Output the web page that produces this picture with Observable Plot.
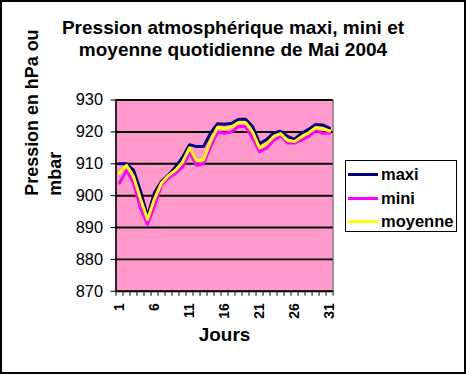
<!DOCTYPE html>
<html>
<head>
<meta charset="utf-8">
<script src="https://cdn.jsdelivr.net/npm/d3@7"></script>
<script src="https://cdn.jsdelivr.net/npm/@observablehq/plot@0.6"></script>
<style>
  body { margin: 0; background: #fff; }
  #wrap { position: relative; width: 466px; height: 374px; box-sizing: border-box; border: 2px solid #000; overflow: hidden; font-family: "Liberation Sans", Arial, sans-serif; }
  #chart { position: absolute; left: -2px; top: -2px; }
  #title { position: absolute; left: 0; right: 0; top: 15px; text-align: center; font-weight: bold; font-size: 19px; line-height: 22px; color: #000; }
  #legend { position: absolute; left: 343px; top: 158px; width: 112px; height: 72px; box-sizing: border-box; border: 1px solid #000; background: #fff; }
  .row { position: absolute; left: 0; height: 20px; display: flex; align-items: center; font-weight: bold; font-size: 16.5px; }
  .sw { width: 30px; height: 3px; margin-left: 2px; margin-right: 3px; }
</style>
</head>
<body>
<div id="wrap">
  <div id="chart"></div>
  <div id="title">Pression atmosphérique maxi, mini et<br>moyenne quotidienne de Mai 2004</div>
  <div id="legend"></div>
</div>
<script>
const days = d3.range(1, 32);
const maxi = [910, 910, 908, 901.5, 893.5, 901, 904.5, 906.5, 909, 912, 916, 915.4, 915.4, 919.6, 922.6, 922.4, 922.7, 924, 924, 921.8, 916.3, 917.6, 919.7, 920.2, 918.6, 917.7, 919.6, 920.8, 922.3, 922.2, 921.2];
const mini = [904, 908, 904, 896, 891, 896.7, 903.4, 905.5, 907, 909, 913.5, 909.5, 910, 915.3, 920, 919.6, 920, 921.7, 921.7, 918, 913.8, 914.9, 917.3, 918.8, 916.5, 916.5, 917.5, 918.5, 920.4, 919.6, 919.6];
const moyenne = [907, 909.5, 906, 899, 892.5, 899, 904, 906.3, 908, 910.5, 915, 911, 911.3, 917, 921.5, 921, 921.5, 923, 923, 920, 915, 916.2, 918.5, 919.5, 917.3, 917, 918.5, 919.7, 921.3, 921, 920.3];
const seriesNames = ["maxi", "mini", "moyenne"];
const seriesColors = ["#000080", "#FF00FF", "#FFFF00"];
const yTicks = [870, 880, 890, 900, 910, 920, 930];
const xLabelTicks = [1, 6, 11, 16, 21, 26, 31];
const yLabel = "Pression en hPa ou\nmbar";
const xLabel = "Jours";

const seriesValues = [maxi, mini, moyenne];
const data = [];
seriesNames.forEach((name, s) => days.forEach((d, i) => data.push({day: d, value: seriesValues[s][i], series: name})));

const chart = Plot.plot({
  width: 466,
  height: 374,
  marginLeft: 116,
  marginRight: 132,
  marginTop: 100,
  marginBottom: 82,
  style: {background: "transparent", fontFamily: "'Liberation Sans', Arial, sans-serif", color: "#000"},
  x: {domain: [0.5, 31.5]},
  y: {domain: [870, 930]},
  color: {domain: seriesNames, range: seriesColors},
  marks: [
    Plot.frame({fill: "#FF99CC", stroke: "#808080", strokeWidth: 1.5}),
    Plot.ruleY(yTicks, {stroke: "#000", strokeWidth: 2}),
    Plot.ruleX([0.5], {stroke: "#000", strokeWidth: 1.5}),
    Plot.axisY({ticks: yTicks, tickSize: 5, tickPadding: 8, fontSize: 16.5, label: null, tickFormat: d => String(d)}),
    Plot.axisX({ticks: d3.range(0.5, 32, 1), tickSize: 5, tickFormat: () => "", label: null}),
    Plot.axisX({ticks: xLabelTicks, tickSize: 0, tickPadding: 12, tickRotate: -90, fontSize: 14, fontWeight: "bold", label: null, tickFormat: d => String(d)}),
    Plot.line(data, {x: "day", y: "value", z: "series", stroke: "series", strokeWidth: 3, curve: "linear"}),
    Plot.text([yLabel], {text: d => d, frameAnchor: "left", dx: -74, rotate: -90, fontSize: 18, fontWeight: "bold", lineHeight: 1.25}),
    Plot.text([xLabel], {text: d => d, frameAnchor: "bottom", dy: 50, fontSize: 19, fontWeight: "bold"})
  ]
});
document.getElementById("chart").appendChild(chart);

const legend = document.getElementById("legend");
const rowTops = [3, 27, 50];
seriesNames.forEach((name, i) => {
  const row = document.createElement("div");
  row.className = "row";
  row.style.top = rowTops[i] + "px";
  const sw = document.createElement("span");
  sw.className = "sw";
  sw.style.background = seriesColors[i];
  const t = document.createElement("span");
  t.textContent = name;
  row.appendChild(sw);
  row.appendChild(t);
  legend.appendChild(row);
});
</script>
</body>
</html>
